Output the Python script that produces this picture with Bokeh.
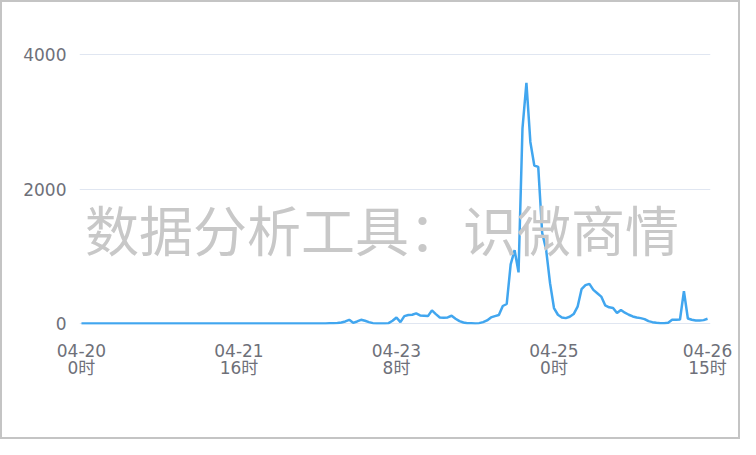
from bokeh.plotting import figure
from bokeh.models import Range1d, FixedTicker, Label, ColumnDataSource
from bokeh.embed import file_html
from bokeh.resources import INLINE

# hourly counts, 04-20 0时 .. 04-26 15时 (160 hours)
hours = list(range(160))
values = (
    [0] * 63
    + [3, 5, 8, 15, 30, 55, 10, 30, 55, 40, 20, 5, 0, 0, 0, 5,   # h63-h78
       40, 90, 20, 110, 125, 130, 150, 120, 115, 110, 195, 140,  # h79-h90
       90, 85, 90, 115, 70, 35, 15, 5, 5, 0, 5, 20,               # h91-h102
       45, 90, 110, 125, 260, 290, 880, 1090, 760, 2900, 3580,    # h103-h113
       2700, 2350, 2330, 1350, 1100, 600, 230, 130, 90, 80, 100,  # h114-h124
       140, 250, 510, 570, 590, 500, 450, 400, 270, 240, 230,     # h125-h135
       155, 200, 160, 130, 105, 90, 80, 65, 35, 20, 10, 5, 5,     # h136-h148
       10, 55, 55, 60, 480, 75, 55, 45, 45, 50, 70]               # h149-h159
)
tick_pos = [0, 40, 80, 120, 159]
tick_labels = ["04-20\n0时", "04-21\n16时", "04-23\n8时", "04-25\n0时", "04-26\n15时"]
y_ticks = [0, 2000, 4000]
watermark = "数据分析工具：识微商情"

FONT = "Noto Sans CJK SC"
AXIS_FONT = "DejaVu Sans, Noto Sans CJK SC"
LABEL_COLOR = "#6E7079"

p = figure(width=740, height=439, output_backend="svg", toolbar_location=None,
           x_range=Range1d(-0.5, 159.75), y_range=Range1d(-15, 4015),
           min_border_left=77, min_border_right=32, min_border_top=51,
           min_border_bottom=117)
p.outline_line_color = None
p.background_fill_color = "white"
p.border_fill_color = "white"
p.styles = {"border": "2px solid #c4c4c4"}

p.xgrid.grid_line_color = None
p.ygrid.ticker = FixedTicker(ticks=y_ticks)
p.ygrid.grid_line_color = "#E0E6F1"
p.ygrid.grid_line_width = 1

p.xaxis.ticker = FixedTicker(ticks=tick_pos)
p.xaxis.major_label_overrides = {t: l for t, l in zip(tick_pos, tick_labels)}
p.yaxis.ticker = FixedTicker(ticks=y_ticks)
for ax in (p.xaxis, p.yaxis):
    ax.axis_line_color = None
    ax.major_tick_line_color = None
    ax.minor_tick_line_color = None
    ax.major_label_text_font = AXIS_FONT
    ax.major_label_text_font_size = "17px"
    ax.major_label_text_color = LABEL_COLOR
p.xaxis.major_label_standoff = 10
p.xaxis.major_label_text_line_height = 0.86
p.yaxis.major_label_standoff = 7

p.add_layout(Label(x=76.3, y=1413, text=watermark, text_font=FONT,
                   text_font_size="54px", text_color="#c8c8c8",
                   text_align="center", text_baseline="middle"))

src = ColumnDataSource(dict(x=hours, y=values))
p.line("x", "y", source=src, line_color="#41A6EF", line_width=2.5)

open("out.html", "w").write(file_html(p, INLINE))
